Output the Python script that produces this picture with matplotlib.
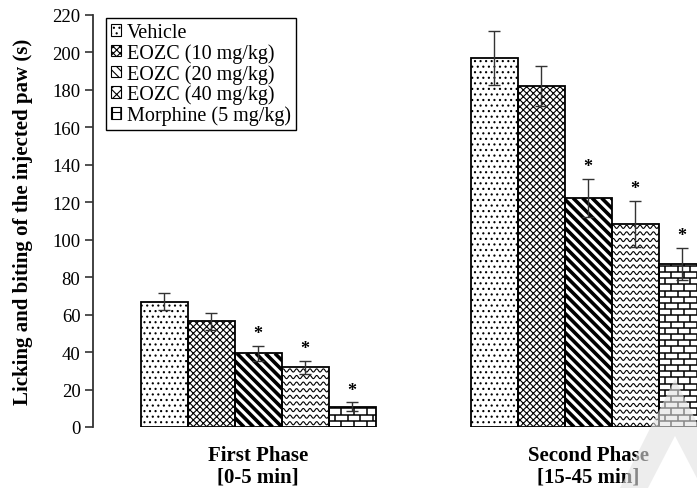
import numpy as np
import matplotlib
matplotlib.use('Agg')
import matplotlib.pyplot as plt
from matplotlib.collections import LineCollection
from matplotlib.patches import Patch, Polygon
from matplotlib.transforms import IdentityTransform

plt.rcParams['font.family'] = ['Liberation Serif', 'DejaVu Serif']
plt.rcParams['hatch.linewidth'] = 0.8

# данные
groups = ['First Phase\n[0-5 min]', 'Second Phase\n[15-45 min]']
treatments = ['Vehicle', 'EOZC (10 mg/kg)', 'EOZC (20 mg/kg)',
              'EOZC (40 mg/kg)', 'Morphine (5 mg/kg)']
first_phase = [67.0, 56.4, 39.3, 31.8, 10.9]
first_err = [4.6, 4.6, 4.0, 3.7, 2.3]
second_phase = [197.0, 182.2, 122.3, 108.5, 87.0]
second_err = [14.5, 10.8, 10.1, 12.3, 8.6]
significant = [False, False, True, True, True]

# оформление столбцов
kinds = ['dots', 'cross', 'stripes', 'waves', 'bricks']
hatches = {'dots': '...', 'cross': 'xxxxx'}
legend_hatch = ['...', 'xxxxx', '\\\\\\\\', 'xxx', '++']
bar_w = 0.1424


def add_pattern(ax, bar, kind):
    """ Рисует узор внутри столбца в пикселях, обрезая по самому столбцу """
    bb = bar.get_window_extent()
    x0, y0, x1, y1 = bb.x0, bb.y0, bb.x1, bb.y1
    segs = []
    if kind == 'stripes':
        step, h = 9.5, y1 - y0
        c = x0 - h
        while c < x1:
            segs.append([(c, y1), (c + h, y0)])
            c += step
        lw = 2.6
    elif kind == 'waves':
        xs = np.arange(x0, x1 + 1, 0.5)
        y = y1 - 3
        while y > y0 - 3:
            segs.append(np.column_stack([xs, y + 1.6 * np.sin(2 * np.pi * (xs - x0) / 6.7)]))
            y -= 6.6
        lw = 0.8
    elif kind == 'bricks':
        row, brick = 6.2, 12.7
        k, y = 0, y0
        while y < y1:
            segs.append([(x0, y), (x1, y)])
            xv = x0 + (brick / 2 if k % 2 else 0)
            while xv < x1:
                segs.append([(xv, y), (xv, min(y + row, y1))])
                xv += brick
            y += row
            k += 1
        lw = 1.1
    else:
        return
    lc = LineCollection(segs, colors='black', linewidths=lw,
                        transform=IdentityTransform(), zorder=2.5)
    ax.add_collection(lc, autolim=False)
    lc.set_clip_path(bar)  # после add_collection, иначе перезапишется


fig = plt.figure(figsize=(6.97, 4.89), dpi=100)
ax = fig.add_axes([93 / 697, 61 / 489, 1 - 93 / 697, 412 / 489])
ax.set_xlim(-0.5, 1.33)
ax.set_ylim(0, 220)

values = np.array([first_phase, second_phase])
errors = np.array([first_err, second_err])

for i, kind in enumerate(kinds):
    xs = np.arange(len(groups)) + (i - 2) * bar_w
    bars = ax.bar(xs, values[:, i], width=bar_w, color='white',
                  edgecolor='black', linewidth=0, hatch=hatches.get(kind),
                  zorder=2)
    for b in bars:
        add_pattern(ax, b, kind)
    ax.bar(xs, values[:, i], width=bar_w, fill=False, edgecolor='black',
           linewidth=1.3, zorder=3)
    ax.errorbar(xs, values[:, i], yerr=errors[:, i], fmt='none',
                ecolor='#333333', elinewidth=1, capsize=4, capthick=1, zorder=4)
    if significant[i]:
        for x, v, e in zip(xs, values[:, i], errors[:, i]):
            ax.text(x, v + e + 6.5, '*', ha='center', va='center',
                    fontsize=13, fontweight='bold')

for s in ['top', 'right', 'bottom']:
    ax.spines[s].set_visible(False)
ax.spines['left'].set_linewidth(1.3)
ax.spines['left'].set_color('#333333')
ax.set_yticks(np.arange(0, 221, 20))
ax.tick_params(axis='y', direction='out', length=6, width=1.2, pad=3,
               labelsize=13.5, color='#333333')
ax.set_xticks(range(len(groups)))
ax.set_xticklabels(groups, fontsize=15, fontweight='bold', linespacing=1.1)
ax.tick_params(axis='x', length=0, pad=13)
ax.set_ylabel('Licking and biting of the injected paw (s)', fontsize=15,
              fontweight='bold')
ax.yaxis.set_label_coords(-0.099, 0.5)

handles = [Patch(facecolor='white', edgecolor='black', hatch=h, linewidth=0.8)
           for h in legend_hatch]
leg = ax.legend(handles, treatments, loc='upper left',
                bbox_to_anchor=(106 / 697, 1 - 19 / 489),
                bbox_transform=fig.transFigure, borderaxespad=0,
                fontsize=14.5, handlelength=0.5, handleheight=0.5,
                handletextpad=0.3, labelspacing=0.05, borderpad=0.25,
                fancybox=False, framealpha=1, edgecolor='black')
leg.get_frame().set_linewidth(1)

# серый водяной знак в правом нижнем углу
pts = [(620, 489), (675, 380), (730, 489), (702, 489), (675, 437), (648, 489)]
fig.patches.append(Polygon([(x / 697, 1 - y / 489) for x, y in pts],
                           closed=True, transform=fig.transFigure,
                           facecolor='#e2e2e2', edgecolor='none', alpha=0.6,
                           zorder=10))

fig.savefig('out.png', dpi=100)
